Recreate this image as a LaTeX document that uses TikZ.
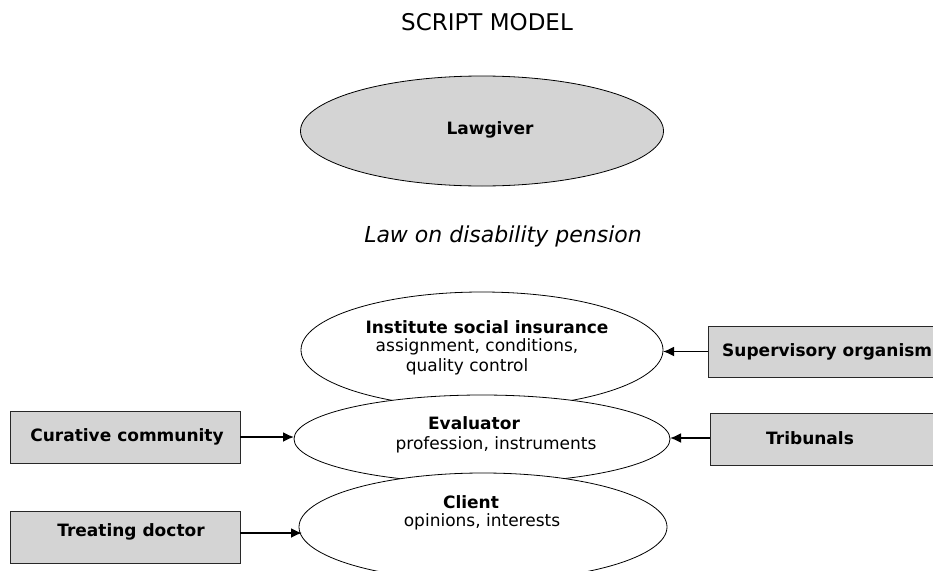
\documentclass[tikz,border=0pt]{standalone}
\usepackage{fontspec}
\setmainfont{DejaVu Sans}
\usetikzlibrary{shapes.geometric,arrows.meta}
\definecolor{shade}{RGB}{212,212,212}
\definecolor{edge}{RGB}{40,40,40}
\tikzset{
  oval/.style={ellipse,draw=black,line width=0.8pt,fill=white,inner sep=0pt,outer sep=0pt},
  actor/.style={rectangle,draw=edge,line width=1pt,fill=shade,inner sep=0pt,outer sep=0pt},
  boldtxt/.style={font=\fontsize{17}{20}\selectfont\bfseries,inner sep=0pt},
  plaintxt/.style={font=\fontsize{17}{20}\selectfont,inner sep=0pt},
  feed/.style={-{Latex[length=11pt,width=10pt]},line width=1.8pt,black}
}
\begin{document}
\begin{tikzpicture}[x=1pt,y=-1pt]
\clip (0,0) rectangle (933,570);
\fill[white] (0,0) rectangle (933,570);

% heading
\node[font=\fontsize{23}{26}\selectfont,inner sep=0pt] (title) at (487,22.5) {SCRIPT MODEL};

% lawgiver and the law it issues
\node[oval,fill=shade,minimum width=363pt,minimum height=110pt] (law) at (482,131) {};
\node[boldtxt] (lawtxt) at (490,130) {Lawgiver};
\node[font=\fontsize{22}{26}\selectfont\itshape,inner sep=0pt] (pension) at (503,236) {Law on disability pension};

% stacked actors of the script
\node[oval,minimum width=362pt,minimum height=116pt] (inst) at (482,350) {};
\node[oval,minimum width=376pt,minimum height=88pt] (eval) at (482,439) {};
\node[oval,minimum width=368pt,minimum height=108pt] (client) at (483,527) {};

\node[boldtxt] (insttitle) at (487,327) {Institute social insurance};
\node[plaintxt] (instline1) at (477,347) {assignment, conditions,};
\node[plaintxt] (instline2) at (467,367) {quality control};

\node[boldtxt] (evaltitle) at (474,423) {Evaluator};
\node[plaintxt] (evalline) at (496,445) {profession, instruments};

\node[boldtxt] (clienttitle) at (471,502) {Client};
\node[plaintxt] (clientline) at (482,522) {opinions, interests};

% outside influences
\node[actor,minimum width=230pt,minimum height=52pt] (cur) at (125,437) {};
\node[boldtxt] (curtxt) at (127,437) {Curative community};
\node[actor,minimum width=230pt,minimum height=52pt] (treat) at (125,537) {};
\node[boldtxt] (treattxt) at (131,532) {Treating doctor};
\node[actor,minimum width=260pt,minimum height=51pt] (sup) at (838,351.5) {};
\node[boldtxt,anchor=west] (suptxt) at (722,352) {Supervisory organism};
\node[actor,minimum width=260pt,minimum height=52pt] (trib) at (840,439) {};
\node[boldtxt] (tribtxt) at (810,438) {Tribunals};

% influence arrows
\draw[feed] (cur.east) -- (cur.east -| eval.west);
\draw[feed] (treat.east |- 0,533) coordinate (tstart) -- (302,533) coordinate (tend);
\draw[feed] (sup.west) -- (sup.west -| inst.east);
\draw[feed] (trib.west |- 0,438) coordinate (rstart) -- (rstart -| eval.east);
\end{tikzpicture}
\end{document}
